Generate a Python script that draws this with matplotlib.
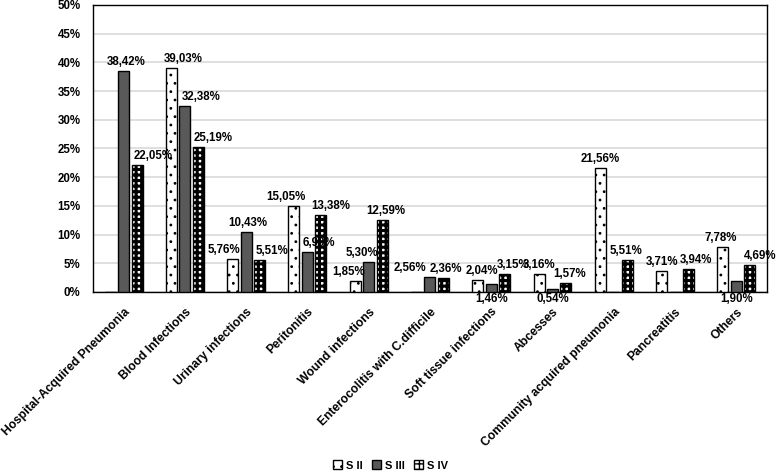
import numpy as np
import matplotlib
matplotlib.use("Agg")
import matplotlib.pyplot as plt
from matplotlib.patches import Patch

categories = ["Hospital-Acquired Pneumonia", "Blood Infections", "Urinary infections",
              "Peritonitis", "Wound infections", "Enterocolitis with C.difficile",
              "Soft tissue infections", "Abcesses", "Community acquired pneumonia",
              "Pancreatitis", "Others"]
s2 = [0, 39.03, 5.76, 15.05, 1.85, 0, 2.04, 3.16, 21.56, 3.71, 7.78]
s3 = [38.42, 32.38, 10.43, 6.99, 5.30, 2.56, 1.46, 0.54, 0, 0, 1.90]
s4 = [22.05, 25.19, 5.51, 13.38, 12.59, 2.36, 3.15, 1.57, 5.51, 3.94, 4.69]
series_names = ["S II", "S III", "S IV"]

# horizontal nudges of the value labels (pixels), as placed in the original
dx2 = [0, 12, -9, -8, -7, 0, 4, 0, 0, 0, -2]
dx3 = [3, 16, 2, 11, -7, -20, 0, 0, 0, 0, 0]
dx4 = [16, 15, 12, 10, 4, 2, 8, 4, -1, 7, 10]

plt.rcParams['font.family'] = ['Liberation Sans', 'DejaVu Sans']
plt.rcParams['font.weight'] = 'bold'

fig = plt.figure(figsize=(7.78, 4.74), dpi=100)
ax = fig.add_axes([0.1195, 0.384, 0.8663, 0.6055])

x = np.arange(len(categories))
w = 0.18
step = 0.22

# S II: white with small dots
with plt.rc_context({'hatch.linewidth': 0.8, 'hatch.color': 'black'}):
    b2 = ax.bar(x - step, s2, w, facecolor='white', edgecolor='black', hatch='..', lw=1, zorder=3)
# S III: solid dark grey
b3 = ax.bar(x, s3, w, facecolor='#595959', edgecolor='black', lw=1, zorder=3)
# S IV: white squares inside a thick black grid
with plt.rc_context({'hatch.linewidth': 2.2, 'hatch.color': 'black'}):
    b4 = ax.bar(x + step, s4, w, facecolor='white', edgecolor='black', hatch='+++', lw=1, zorder=3)

def fmt(v):
    return ("%.2f%%" % v).replace('.', ',')

for bars, vals, dxs in [(b2, s2, dx2), (b3, s3, dx3), (b4, s4, dx4)]:
    for rect, v, d in zip(bars, vals, dxs):
        if v == 0:
            continue
        cx = rect.get_x() + rect.get_width() / 2
        if bars is b3 and v < 2:
            # small S III values are labelled under the axis
            ax.annotate(fmt(v), (cx, 0), xytext=(0, -1), textcoords='offset pixels',
                        ha='center', va='top', fontsize=8.3, fontweight='bold',
                        annotation_clip=False)
        else:
            ax.annotate(fmt(v), (cx, v), xytext=(d, 3), textcoords='offset pixels',
                        ha='center', va='bottom', fontsize=8.3, fontweight='bold',
                        zorder=5, annotation_clip=False)

ax.set_xlim(-0.5, len(categories) - 0.5)
ax.set_ylim(0, 50)
ax.set_yticks(np.arange(0, 51, 5))
ax.set_yticklabels(["%d%%" % t for t in range(0, 51, 5)], fontsize=8.3, fontweight='bold')
ax.set_xticks(x)
ax.set_xticklabels(categories, rotation=45, ha='right', va='top', rotation_mode='anchor',
                   fontsize=8.7, fontweight='bold')
ax.tick_params(axis='both', length=0)
ax.tick_params(axis='y', pad=9)
ax.tick_params(axis='x', pad=10)
ax.yaxis.grid(True, color='#d9d9d9', lw=1.2, zorder=0)
ax.set_axisbelow(True)
for s in ax.spines.values():
    s.set_color('black')
    s.set_linewidth(1)

with plt.rc_context({'hatch.linewidth': 0.8}):
    h2 = Patch(facecolor='white', edgecolor='black', hatch='..')
h3 = Patch(facecolor='#595959', edgecolor='black')
with plt.rc_context({'hatch.linewidth': 2.2}):
    h4 = Patch(facecolor='white', edgecolor='black', hatch='+++')
fig.legend([h2, h3, h4], series_names, loc='center', bbox_to_anchor=(0.502, 0.018), ncol=3,
           frameon=False, fontsize=8, handlelength=0.8, handleheight=0.8,
           handletextpad=0.3, columnspacing=0.9)

fig.savefig("out.png", dpi=100)
